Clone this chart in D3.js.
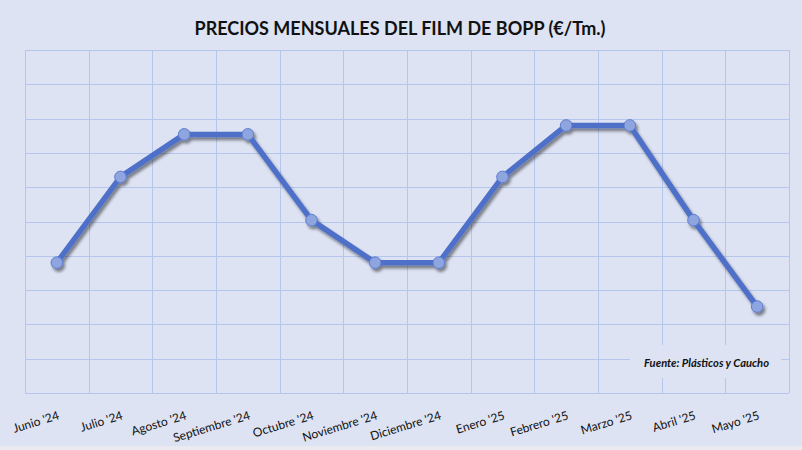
<!DOCTYPE html>
<html>
<head>
<meta charset="utf-8">
<script src="https://cdn.jsdelivr.net/npm/d3@7"></script>
<style>
  html, body { margin: 0; padding: 0; background: #dde3f3; }
  svg { display: block; }
</style>
</head>
<body>
<div id="chart"></div>
<script>
// Chart data
const months = ["Junio '24", "Julio '24", "Agosto '24", "Septiembre '24", "Octubre '24", "Noviembre '24",
  "Diciembre '24", "Enero '25", "Febrero '25", "Marzo '25", "Abril '25", "Mayo '25"];
const prices = [1690, 1815, 1877, 1877, 1752, 1690, 1690, 1815, 1890, 1890, 1752, 1626];
const yTicks = d3.range(1500, 2001, 50);

const width = 802;
const height = 450;
const margin = { top: 50, right: 13, bottom: 57, left: 25 };

const svg = d3.select("#chart").append("svg")
  .attr("width", width)
  .attr("height", height);

// shadow for the line
const defs = svg.append("defs");
const filt = defs.append("filter")
  .attr("id", "shadow")
  .attr("x", "-10%").attr("y", "-10%")
  .attr("width", "120%").attr("height", "130%");
filt.append("feDropShadow")
  .attr("dx", 2).attr("dy", 3)
  .attr("stdDeviation", 1.6)
  .attr("flood-color", "#000")
  .attr("flood-opacity", 0.45);

svg.append("rect")
  .attr("width", width)
  .attr("height", height)
  .attr("fill", "#dde3f3");

svg.append("rect")
  .attr("y", height - 4)
  .attr("width", width)
  .attr("height", 4)
  .attr("fill", "#e9ebf0");

const x = d3.scaleBand()
  .domain(months)
  .range([margin.left, width - margin.right])
  .padding(0);

const y = d3.scaleLinear()
  .domain([1500, 2000])
  .range([height - margin.bottom, margin.top]);

// Grid
const grid = svg.append("g").attr("stroke", "#b5c6ec").attr("stroke-width", 1);
grid.selectAll("line.h")
  .data(yTicks)
  .join("line")
  .attr("class", "h")
  .attr("x1", margin.left)
  .attr("x2", width - margin.right)
  .attr("y1", d => Math.round(y(d)) + 0.5)
  .attr("y2", d => Math.round(y(d)) + 0.5);

const xEdges = months.map(m => x(m)).concat([x.range()[1]]);
grid.selectAll("line.v")
  .data(xEdges)
  .join("line")
  .attr("class", "v")
  .attr("x1", d => Math.round(d) + 0.5)
  .attr("x2", d => Math.round(d) + 0.5)
  .attr("y1", y(2000))
  .attr("y2", y(1500));

// X axis labels
const xAxis = svg.append("g")
  .attr("transform", `translate(0,${y(1500)})`)
  .call(d3.axisBottom(x).tickSize(0).tickPadding(0));
xAxis.select(".domain").remove();
xAxis.selectAll("text")
  .attr("font-family", "Lato, 'Open Sans', sans-serif")
  .attr("font-size", "12px")
  .attr("fill", "#111")
  .attr("dy", 0)
  .attr("y", 0)
  .attr("text-anchor", "end")
  .attr("transform", "translate(3,26) rotate(-17)");

// Source box
const src = svg.append("g");
src.append("rect")
  .attr("x", 630)
  .attr("y", 345)
  .attr("width", 151)
  .attr("height", 33)
  .attr("fill", "#dde3f3");
src.append("text")
  .attr("x", 769)
  .attr("y", 367)
  .attr("text-anchor", "end")
  .attr("font-family", "Lato, 'Open Sans', sans-serif")
  .attr("font-size", "11.2px")
  .attr("font-weight", "bold")
  .attr("font-style", "italic")
  .attr("fill", "#111")
  .text("Fuente: Plásticos y Caucho");

// Line
const cx = d => x(d.m) + x.bandwidth() / 2;
const pts = months.map((m, i) => ({ m, v: prices[i] }));

const line = d3.line()
  .x(cx)
  .y(d => y(d.v));

const series = svg.append("g").attr("filter", "url(#shadow)");
series.append("path")
  .datum(pts)
  .attr("fill", "none")
  .attr("stroke", "#4f70c8")
  .attr("stroke-width", 5.5)
  .attr("stroke-linejoin", "round")
  .attr("d", line);

series.selectAll("circle")
  .data(pts)
  .join("circle")
  .attr("cx", cx)
  .attr("cy", d => y(d.v))
  .attr("r", 5.8)
  .attr("fill", "#8fa5df")
  .attr("stroke", "#5c7bcf")
  .attr("stroke-width", 1);

// Title
svg.append("text")
  .attr("x", 400)
  .attr("y", 35)
  .attr("text-anchor", "middle")
  .attr("font-family", "Lato, 'Open Sans', sans-serif")
  .attr("font-size", "18px")
  .attr("font-weight", "bold")
  .attr("fill", "#111")
  .text("PRECIOS MENSUALES DEL FILM DE BOPP (€/Tm.)");
</script>
</body>
</html>
